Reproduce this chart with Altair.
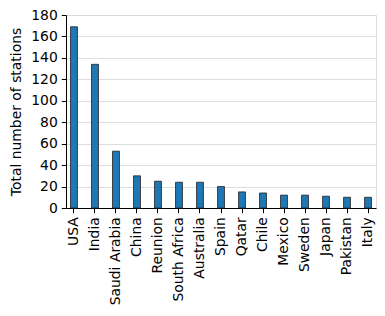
import altair as alt
import pandas as pd

countries = ["USA", "India", "Saudi Arabia", "China", "Reunion", "South Africa",
             "Australia", "Spain", "Qatar", "Chile", "Mexico", "Sweden", "Japan",
             "Pakistan", "Italy"]
stations = [169, 134, 53, 30, 25, 24, 24, 20, 15, 14, 12, 12, 11, 10, 10]

df = pd.DataFrame({"country": countries, "stations": stations})

FONT = "DejaVu Sans"
FS = 13.9

chart = alt.Chart(df).mark_bar(
    color="#1f77b4", stroke="#222222", strokeWidth=0.8
).encode(
    x=alt.X("country:N", sort=countries, title=None,
            scale=alt.Scale(paddingInner=0.67, paddingOuter=0.215),
            axis=alt.Axis(labelAngle=-90, labelFont=FONT, labelFontSize=FS,
                          labelColor="black", domainColor="black", tickColor="black",
                          tickSize=4.7, labelPadding=4, grid=False)),
    y=alt.Y("stations:Q", title="Total number of stations",
            scale=alt.Scale(domain=[0, 180], nice=False),
            axis=alt.Axis(values=list(range(0, 181, 20)), labelFont=FONT,
                          labelFontSize=FS, labelColor="black", titleFont=FONT,
                          titleFontSize=FS, titleFontWeight="normal", titleColor="black",
                          domainColor="black", tickColor="black", tickSize=4.7,
                          labelPadding=4, titlePadding=7, grid=True,
                          gridColor="#d9d9d9", gridWidth=0.9)),
).properties(
    width=310, height=193,
    autosize=alt.AutoSizeParams(type="none"),
    padding={"left": 66, "top": 15, "right": 9, "bottom": 108},
).configure_view(stroke="black", strokeWidth=1).configure(background="white")

chart.save("out.html", embed_options={"renderer": "svg", "actions": False})
